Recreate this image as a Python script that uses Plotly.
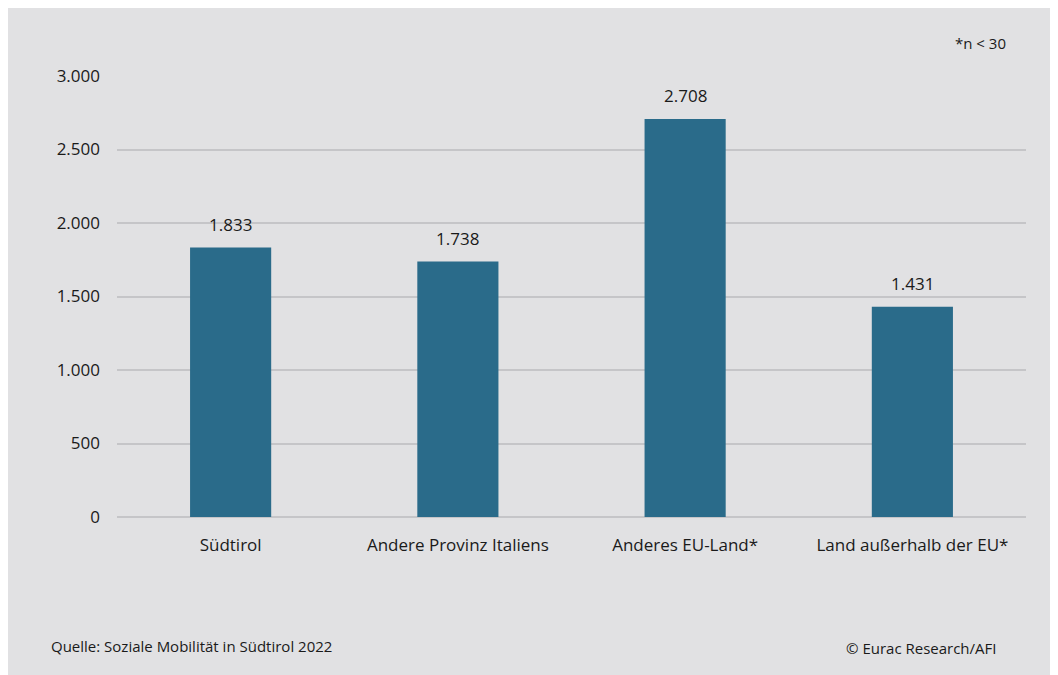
import plotly.graph_objects as go

categories = ["Südtirol", "Andere Provinz Italiens", "Anderes EU-Land*", "Land außerhalb der EU*"]
values = [1833, 1738, 2708, 1431]
y_ticks = [0, 500, 1000, 1500, 2000, 2500, 3000]

BG = "#e1e1e3"
BAR = "#2a6b8a"
TXT = "#1a1a1a"
GRID = "#c5c5c8"
FONT = "Open Sans"

OFF = 8  # page body margin
W, H = 1058, 675
L, R, T, B = 109, 40, 68, 166
pw, ph = W - L - R, H - T - B

def px_x(p):
    return (p - OFF - L) / pw

def px_y(p):
    return (H - B - (p - OFF)) / ph

fig = go.Figure()
fig.add_trace(go.Bar(x=categories, y=values, marker=dict(color=BAR, line=dict(width=0)),
                     width=0.357, hoverinfo="skip"))

for c, v in zip(categories, values):
    fig.add_annotation(x=c, y=v, xref="x", yref="y", text=f"{v:,}".replace(",", "."),
                       showarrow=False, yanchor="bottom", yshift=10,
                       font=dict(family=FONT, size=17, color=TXT))

fig.add_annotation(x=px_x(1008), y=px_y(43), xref="paper", yref="paper", text="*n < 30",
                   showarrow=False, xanchor="right", yanchor="middle",
                   font=dict(family=FONT, size=15, color=TXT))
fig.add_annotation(x=px_x(49), y=px_y(646), xref="paper", yref="paper",
                   text="Quelle: Soziale Mobilität in Südtirol 2022",
                   showarrow=False, xanchor="left", yanchor="middle",
                   font=dict(family=FONT, size=15, color=TXT))
fig.add_annotation(x=px_x(998), y=px_y(648), xref="paper", yref="paper",
                   text="© Eurac Research/AFI",
                   showarrow=False, xanchor="right", yanchor="middle",
                   font=dict(family=FONT, size=15, color=TXT))

fig.update_layout(
    width=W, height=H,
    margin=dict(l=L, r=R, t=T, b=B),
    paper_bgcolor=BG, plot_bgcolor=BG,
    separators=",.",
    showlegend=False,
    font=dict(family=FONT, size=17, color=TXT),
    xaxis=dict(showgrid=False, showline=False, ticks="", ticklabelstandoff=16,
               tickfont=dict(family=FONT, size=17, color=TXT)),
    yaxis=dict(range=[0, 3000], tickvals=y_ticks, tickformat=",",
               showgrid=True, gridcolor=GRID, gridwidth=1.5,
               zeroline=True, zerolinecolor=GRID, zerolinewidth=1.5,
               showline=False, ticks="", ticklabelstandoff=16,
               tickfont=dict(family=FONT, size=17, color=TXT)),
)

fig.write_html("out.html")
